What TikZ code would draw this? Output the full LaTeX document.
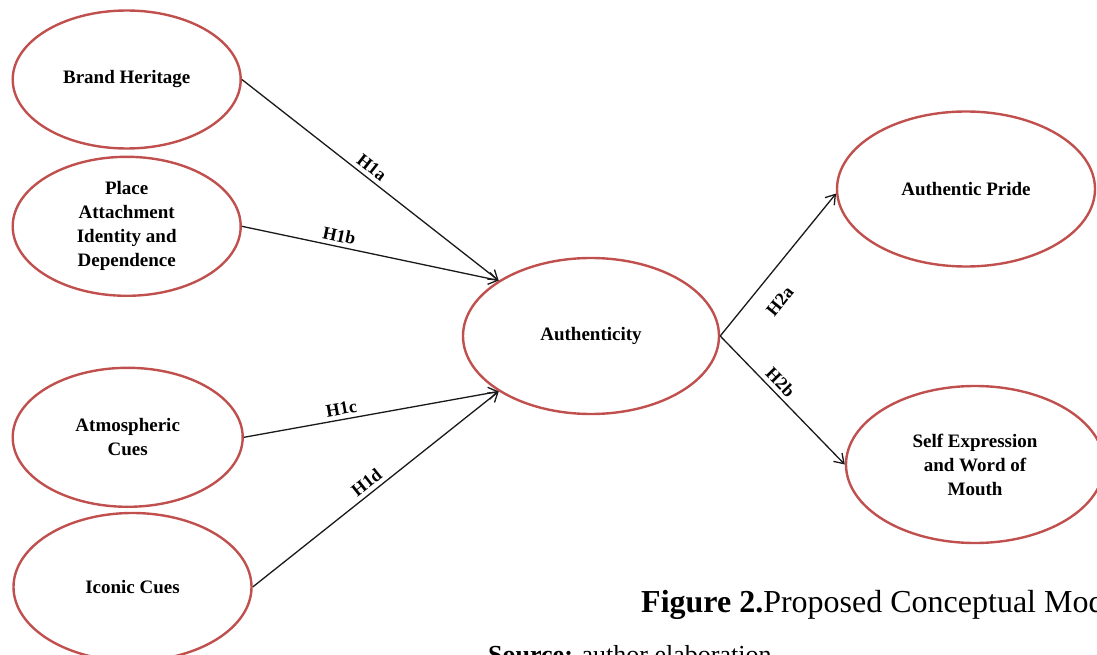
\documentclass[tikz,border=0pt]{standalone}
\usepackage{fontspec}
\setmainfont{Liberation Serif}
\usetikzlibrary{shapes.geometric,arrows.meta}
\definecolor{ovalred}{HTML}{C0504D}
\begin{document}
\begin{tikzpicture}[x=1pt,y=-1pt,
  construct/.style={ellipse, draw=ovalred, line width=2.4pt, align=center,
    inner sep=0pt, font=\fontsize{19}{24}\selectfont\bfseries},
  link/.style={draw=black!90, line width=1.3pt,
    -{Straight Barb[length=9pt,width=12pt,line width=1.3pt]}},
  hyp/.style={sloped, font=\fontsize{18}{20}\selectfont\bfseries, inner sep=3pt}]
\clip (0,0) rectangle (1097,655);

% antecedents
\node[construct, minimum width=228pt, minimum height=138pt] (bh) at (126.7,79.5) {Brand Heritage};
\node[construct, minimum width=228pt, minimum height=139pt] (pa) at (126.7,226.3) {Place\\Attachment\\Identity and\\Dependence};
\node[construct, minimum width=230pt, minimum height=139pt] (ac) at (127.7,437.3) {Atmospheric\\Cues};
\node[construct, minimum width=238pt, minimum height=148pt] (ic) at (132.5,587) {Iconic Cues};

% mediator
\node[construct, minimum width=256pt, minimum height=156pt] (auth) at (591,336) {Authenticity};

% outcomes
\node[construct, minimum width=258pt, minimum height=155pt] (ap) at (966,189) {Authentic Pride};
\node[construct, minimum width=258pt, minimum height=157pt] (se) at (975,464.5) {Self Expression\\and Word of\\Mouth};

% hypothesised paths
\draw[link] (bh.east) -- node[hyp, pos=0.48, above=1pt] {H1a} (auth.149);
\draw[link] (pa.east) -- node[hyp, pos=0.37, above=1pt] {H1b} (auth.149);
\draw[link] (ac.east) -- node[hyp, pos=0.39, above=1pt] {H1c} (auth.211);
\draw[link] (ic.east) -- node[hyp, pos=0.49, above=1pt] {H1d} (auth.211);
\draw[link] (auth.east) -- node[hyp, pos=0.35, below=15pt] {H2a} (ap.182);
\draw[link] (auth.east) -- node[hyp, pos=0.42, above=1pt] {H2b} (se.west);

% caption
\node[anchor=base west, inner sep=0pt, font=\fontsize{32}{36}\selectfont] (cap) at (641,612)
  {\textbf{Figure 2.}Proposed Conceptual Model};
\node[anchor=base west, inner sep=0pt, font=\fontsize{26}{30}\selectfont] (src) at (488,663)
  {\textbf{Source:} author elaboration};
\end{tikzpicture}
\end{document}
